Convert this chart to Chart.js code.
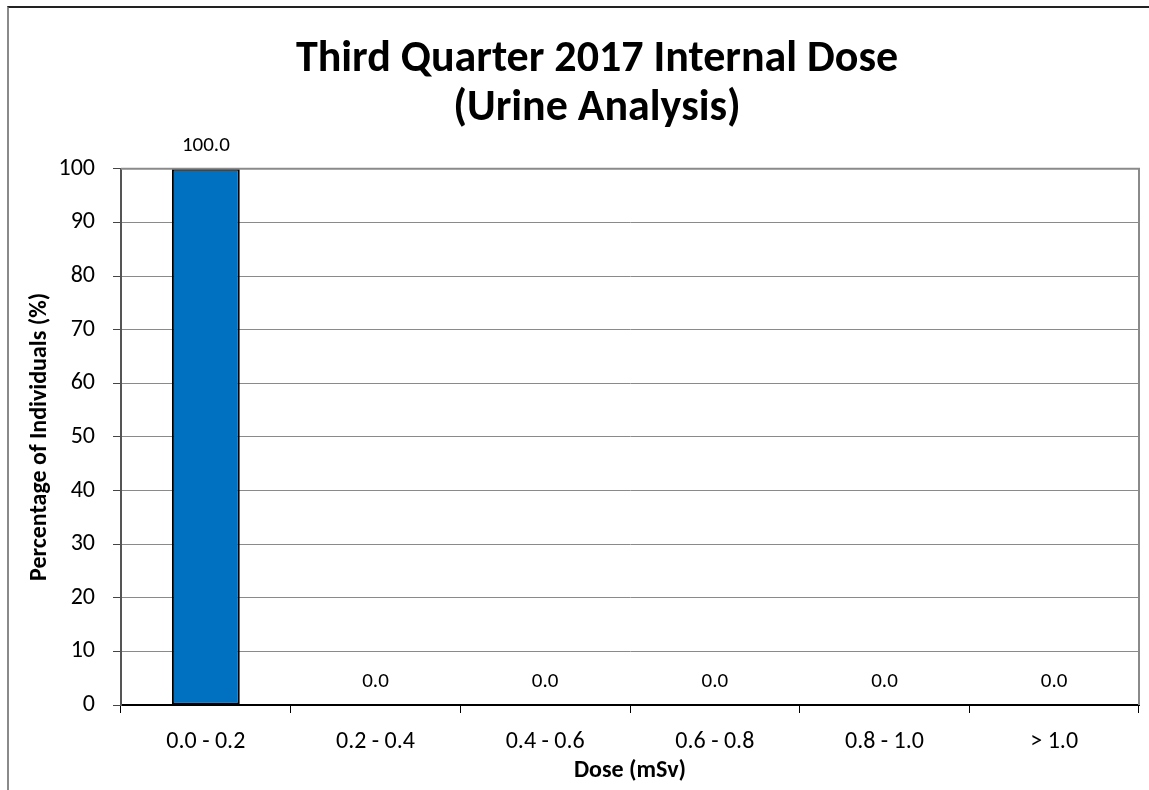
<!DOCTYPE html>
<html>
<head>
<meta charset="utf-8">
<script src="https://cdn.jsdelivr.net/npm/chart.js@4.4.0/dist/chart.umd.min.js"></script>
<style>
  html, body { margin: 0; padding: 0; background: #fff; overflow: hidden; }
  #wrap { position: absolute; left: 0; top: 0; width: 1149px; height: 790px; }
  #frame { position: absolute; left: 7px; top: 6px; width: 1200px; height: 900px;
           border-left: 2px solid #8a8a8a; border-top: 2px solid #222; pointer-events: none; }
</style>
</head>
<body>
<div id="wrap">
  <canvas id="c" width="1149" height="790"></canvas>
  <div id="frame"></div>
</div>
<script>
const titleLines = ["Third Quarter 2017 Internal Dose", "(Urine Analysis)"];
const categories = ["0.0 - 0.2", "0.2 - 0.4", "0.4 - 0.6", "0.6 - 0.8", "0.8 - 1.0", "> 1.0"];
const percentages = [100.0, 0.0, 0.0, 0.0, 0.0, 0.0];
const yTicks = [0, 10, 20, 30, 40, 50, 60, 70, 80, 90, 100];
const xTitle = "Dose (mSv)";
const yTitle = "Percentage of Individuals (%)";

const FONT = "Carlito, Calibri, Lato, sans-serif";

const plotFrame = {
  id: 'plotFrame',
  afterDatasetsDraw(chart) {
    const { ctx, chartArea: a } = chart;
    ctx.save();
    ctx.strokeStyle = '#8a8a8a';
    ctx.lineWidth = 2;
    ctx.beginPath();
    ctx.moveTo(a.left, a.top);
    ctx.lineTo(a.right, a.top);
    ctx.lineTo(a.right, a.bottom);
    ctx.stroke();
    ctx.restore();
  }
};

const valueLabels = {
  id: 'valueLabels',
  afterDatasetsDraw(chart) {
    const { ctx } = chart;
    const meta = chart.getDatasetMeta(0);
    ctx.save();
    ctx.font = "21px " + FONT;
    ctx.fillStyle = '#000';
    ctx.textAlign = 'center';
    ctx.textBaseline = 'middle';
    meta.data.forEach((bar, i) => {
      ctx.fillText(percentages[i].toFixed(1), bar.x, bar.y - 23);
    });
    ctx.restore();
  }
};

new Chart(document.getElementById('c'), {
  type: 'bar',
  data: {
    labels: categories,
    datasets: [{
      data: percentages,
      backgroundColor: '#0070C0',
      borderColor: '#000',
      borderWidth: 2,
      borderSkipped: false,
      categoryPercentage: 1.0,
      barPercentage: 0.4
    }]
  },
  options: {
    responsive: false,
    animation: false,
    devicePixelRatio: 1,
    layout: { padding: { left: 55, right: 10, top: 0, bottom: 0 } },
    plugins: {
      legend: { display: false },
      tooltip: { enabled: false },
      title: {
        display: true,
        text: titleLines,
        color: '#000',
        font: { family: FONT, size: 44, weight: 'bold', lineHeight: 1.1 },
        padding: { top: 36, bottom: 36 }
      }
    },
    scales: {
      x: {
        grid: { display: true, drawOnChartArea: false, drawTicks: true, tickLength: 8, color: '#000', offset: true },
        border: { display: true, color: '#000', width: 2 },
        ticks: { color: '#000', font: { family: FONT, size: 24 }, padding: 15, maxRotation: 0 },
        title: { display: true, text: xTitle, color: '#000', font: { family: FONT, size: 24, weight: 'bold' }, padding: { top: 0, bottom: 5 } },
        afterFit(s) { s.height = 85; }
      },
      y: {
        min: 0, max: 100,
        afterBuildTicks(s) { s.ticks = yTicks.map(v => ({ value: v })); },
        grid: { color: '#8a8a8a', lineWidth: 1, tickLength: 8, tickColor: '#444' },
        border: { display: true, color: '#555', width: 2 },
        ticks: { color: '#000', font: { family: FONT, size: 24 }, padding: 18 },
        title: { display: true, text: yTitle, color: '#000', font: { family: FONT, size: 24, weight: 'bold' }, padding: { top: -29, bottom: 0 } },
        afterFit(s) { s.width = 66; }
      }
    }
  },
  plugins: [plotFrame, valueLabels]
});
</script>
</body>
</html>
